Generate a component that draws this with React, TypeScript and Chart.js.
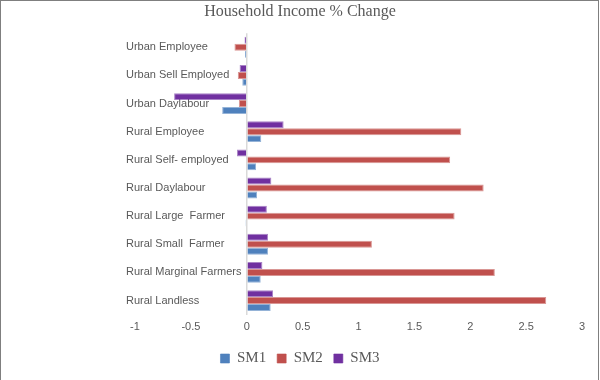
import React, { useEffect, useRef } from "react";
import { Chart, registerables } from "chart.js";

Chart.register(...registerables);

const categories = [
  "Urban Employee",
  "Urban Sell Employed",
  "Urban Daylabour",
  "Rural Employee",
  "Rural Self- employed",
  "Rural Daylabour",
  "Rural Large  Farmer",
  "Rural Small  Farmer",
  "Rural Marginal Farmers",
  "Rural Landless",
];

const sm1 = [-0.016, -0.04, -0.22, 0.13, 0.083, 0.092, -0.01, 0.19, 0.125, 0.214];
const sm2 = [-0.11, -0.08, -0.07, 1.92, 1.82, 2.12, 1.86, 1.12, 2.22, 2.68];
const sm3 = [-0.02, -0.064, -0.65, 0.33, -0.087, 0.22, 0.18, 0.19, 0.14, 0.235];

const seriesNames = ["SM1", "SM2", "SM3"];
const seriesColors = ["#4F81BD", "#C0504D", "#7030A0"];

const xMin = -1;
const xMax = 3;
const xStep = 0.5;

const borderPlugin = {
  id: "frame",
  afterDraw(chart: any) {
    const ctx = chart.ctx;
    ctx.save();
    ctx.strokeStyle = "#7f7f7f";
    ctx.lineWidth = 1;
    ctx.strokeRect(0.5, 0.5, 598, 400);
    ctx.restore();
  },
};

export default function App() {
  const ref = useRef<HTMLCanvasElement | null>(null);
  useEffect(() => {
    if (!ref.current) return;
    const values = [sm1, sm2, sm3];
    const datasets = [2, 1, 0].map((i) => ({
      label: seriesNames[i],
      data: values[i],
      backgroundColor: seriesColors[i],
      borderColor: seriesColors[i] + "99",
      borderWidth: 1,
      barPercentage: 1,
      categoryPercentage: 0.74,
    }));
    const chart = new Chart(ref.current, {
      type: "bar",
      data: { labels: categories, datasets },
      plugins: [borderPlugin],
      options: {
        indexAxis: "y",
        animation: false,
        responsive: true,
        maintainAspectRatio: false,
        layout: { padding: { left: 0, right: 0, top: 0, bottom: 4 } },
        plugins: {
          title: {
            display: true,
            text: "Household Income % Change",
            color: "#595959",
            font: { family: "Liberation Serif", size: 16, weight: "normal" },
            padding: { top: 2, bottom: 12 },
          },
          legend: {
            position: "bottom",
            reverse: true,
            labels: {
              boxWidth: 9,
              boxHeight: 9,
              color: "#595959",
              padding: 11,
              font: { family: "Liberation Serif", size: 15 },
            },
          },
          tooltip: { enabled: false },
        },
        scales: {
          x: {
            min: xMin,
            max: xMax,
            ticks: {
              stepSize: xStep,
              color: "#595959",
              font: { family: "Liberation Sans", size: 11, lineHeight: 0.85 },
              padding: 8,
              callback: (v: any) => String(v),
            },
            grid: {
              drawTicks: false,
              lineWidth: 1.5,
              color: (c: any) => (c.tick && c.tick.value === 0 ? "#D9D9D9" : "rgba(0,0,0,0)"),
            },
            border: { display: false },
          },
          y: {
            grid: { display: false, drawTicks: false },
            border: { display: false },
            afterFit: (s: any) => {
              s.width = 135;
            },
            ticks: {
              mirror: true,
              padding: -9,
              color: "#595959",
              font: { family: "Liberation Sans", size: 11 },
            },
          },
          yRight: {
            type: "linear",
            position: "right",
            display: true,
            grid: { display: false, drawTicks: false },
            border: { display: false },
            ticks: { display: false },
            afterFit: (s: any) => {
              s.width = 18;
            },
          },
        },
      },
    });
    return () => chart.destroy();
  }, []);
  return (
    <div style={{ position: "absolute", left: 0, top: 0, width: 600, height: 380, background: "#fff" }}>
      <canvas ref={ref} />
    </div>
  );
}
